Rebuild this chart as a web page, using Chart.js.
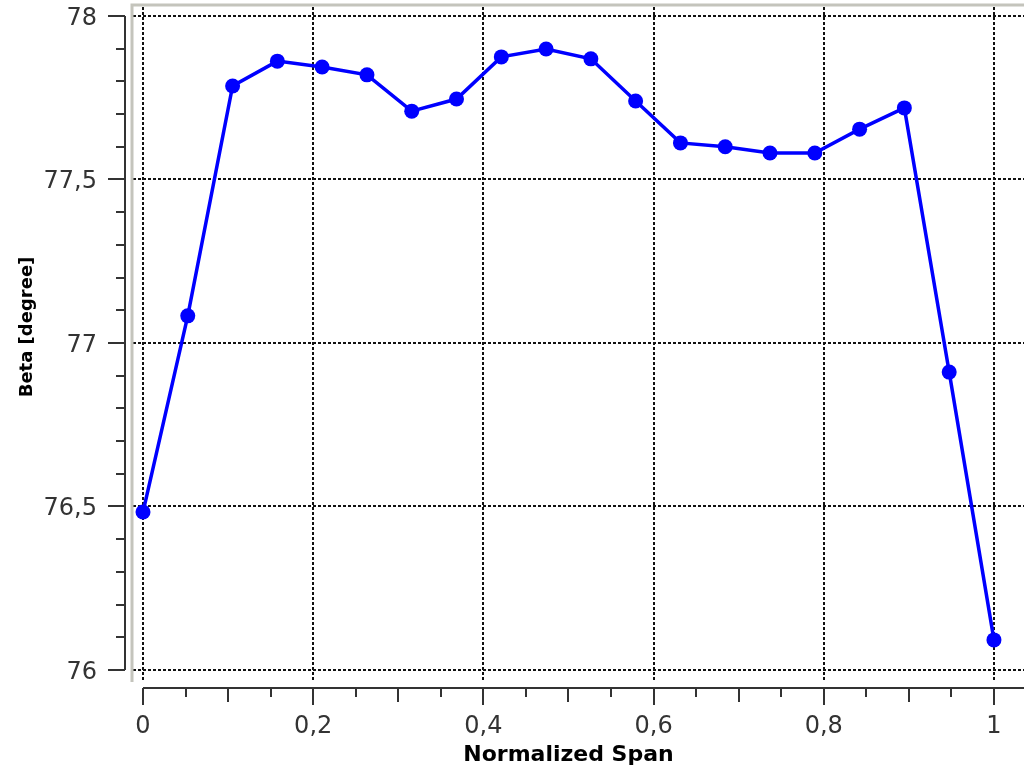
<!DOCTYPE html>
<html>
<head>
<meta charset="utf-8">
<script src="https://cdn.jsdelivr.net/npm/chart.js@4"></script>
<style>
    body { margin: 0; background: #fff; overflow: hidden; }
    #wrap { width: 1024px; height: 775px; }
    canvas { display: block; }
</style>
</head>
<body>
<div id="wrap"><canvas id="beta-chart" width="1024" height="775"></canvas></div>
<script>
// normalized span positions (20 stations) and measured beta angle
const spanValues = [0, 0.0526, 0.1053, 0.1579, 0.2105, 0.2632, 0.3158, 0.3684, 0.4211, 0.4737,
                    0.5263, 0.5789, 0.6316, 0.6842, 0.7368, 0.7895, 0.8421, 0.8947, 0.9474, 1];
const betaValues = [76.483, 77.083, 77.786, 77.862, 77.844, 77.820, 77.709, 77.746, 77.875, 77.899,
                    77.869, 77.740, 77.612, 77.600, 77.581, 77.581, 77.654, 77.719, 76.911, 76.092];

const xTicks = [0, 0.2, 0.4, 0.6, 0.8, 1];
const xTickLabels = ['0', '0,2', '0,4', '0,6', '0,8', '1'];
const yTicks = [76, 76.5, 77, 77.5, 78];
const yTickLabels = ['76', '76,5', '77', '77,5', '78'];

const FONT = '"DejaVu Sans", Verdana, sans-serif';

// draws the detached axes, grid and labels like the original plot tool
const axesPlugin = {
    id: 'axes',
    beforeDatasetsDraw(chart) {
        const { ctx, chartArea, scales } = chart;
        const x = scales.x, y = scales.y;
        ctx.save();
        // grid
        ctx.strokeStyle = '#111';
        ctx.lineWidth = 2;
        ctx.setLineDash([3, 2]);
        xTicks.forEach(v => {
            const px = Math.round(x.getPixelForValue(v));
            ctx.beginPath();
            ctx.moveTo(px, chartArea.top + 3);
            ctx.lineTo(px, chartArea.bottom);
            ctx.stroke();
        });
        yTicks.forEach(v => {
            const py = Math.round(y.getPixelForValue(v));
            ctx.beginPath();
            ctx.moveTo(chartArea.left + 2, py);
            ctx.lineTo(chartArea.right, py);
            ctx.stroke();
        });
        ctx.setLineDash([]);
        // sunken frame (left + top)
        ctx.strokeStyle = '#c4c4bc';
        ctx.lineWidth = 3;
        ctx.beginPath();
        ctx.moveTo(chartArea.left + 1, chartArea.bottom + 2);
        ctx.lineTo(chartArea.left + 1, chartArea.top + 1);
        ctx.lineTo(chartArea.right, chartArea.top + 1);
        ctx.stroke();
        ctx.restore();
    },
    afterDraw(chart) {
        const { ctx, chartArea, scales } = chart;
        const x = scales.x, y = scales.y;
        ctx.save();
        ctx.strokeStyle = '#333';
        ctx.lineWidth = 2;

        // y axis
        const ax = chartArea.left - 6;
        const yTop = y.getPixelForValue(78), yBot = y.getPixelForValue(76);
        ctx.beginPath();
        ctx.moveTo(ax, yTop);
        ctx.lineTo(ax, yBot);
        ctx.stroke();
        for (let i = 0; i <= 20; i++) {
            const v = 76 + i * 0.1;
            const py = Math.round(y.getPixelForValue(v));
            const len = (i % 5 === 0) ? 17 : 9;
            ctx.beginPath();
            ctx.moveTo(ax, py);
            ctx.lineTo(ax - len, py);
            ctx.stroke();
        }

        // x axis
        const ay = chartArea.bottom + 8;
        ctx.beginPath();
        ctx.moveTo(x.getPixelForValue(0), ay);
        ctx.lineTo(chartArea.right, ay);
        ctx.stroke();
        for (let i = 0; i <= 20; i++) {
            const v = i * 0.05;
            const px = Math.round(x.getPixelForValue(v));
            let len = 9;
            if (i % 4 === 0) len = 17;
            else if (i % 2 === 0) len = 14;
            ctx.beginPath();
            ctx.moveTo(px, ay);
            ctx.lineTo(px, ay + len);
            ctx.stroke();
        }

        // tick labels
        ctx.fillStyle = '#333';
        ctx.font = '24px ' + FONT;
        ctx.textBaseline = 'alphabetic';
        ctx.textAlign = 'right';
        yTicks.forEach((v, i) => {
            ctx.fillText(yTickLabels[i], 97, y.getPixelForValue(v) + 9);
        });
        ctx.textAlign = 'center';
        xTicks.forEach((v, i) => {
            ctx.fillText(xTickLabels[i], x.getPixelForValue(v), ay + 45);
        });

        // axis titles
        ctx.fillStyle = '#000';
        ctx.font = 'bold 22px ' + FONT;
        ctx.fillText('Normalized Span', (x.getPixelForValue(0) + x.getPixelForValue(1)) / 2, 761);
        ctx.save();
        ctx.translate(32, 327);
        ctx.rotate(-Math.PI / 2);
        ctx.font = 'bold 18px ' + FONT;
        ctx.fillText('Beta [degree]', 0, 0);
        ctx.restore();

        ctx.restore();
    }
};

const ctx = document.getElementById('beta-chart').getContext('2d');

const betaChart = new Chart(ctx, {
    type: 'line',
    data: {
        datasets: [
            {
                label: 'Beta',
                data: spanValues.map((s, i) => ({ x: s, y: betaValues[i] })),
                borderColor: '#0000ff',
                backgroundColor: '#0000ff',
                borderWidth: 3.5,
                pointRadius: 7.5,
                pointBorderWidth: 0,
                pointHoverRadius: 7.5,
                tension: 0,
                fill: false
            }
        ]
    },
    options: {
        responsive: false,
        animation: false,
        devicePixelRatio: 1,
        layout: {
            autoPadding: false,
            padding: { left: 131, top: 4, right: 0, bottom: 95 }
        },
        plugins: {
            legend: { display: false },
            title: { display: false },
            tooltip: { enabled: false }
        },
        scales: {
            x: {
                type: 'linear',
                display: false,
                min: -0.0141,
                max: 1.0353
            },
            y: {
                type: 'linear',
                display: false,
                min: 75.9694,
                max: 78.0367
            }
        }
    },
    plugins: [axesPlugin]
});
</script>
</body>
</html>
